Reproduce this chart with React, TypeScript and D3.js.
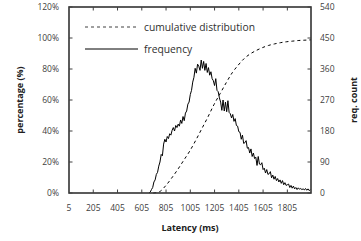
import * as d3 from 'd3';

// request counts per 10 ms bin, first bin centred at 665 ms
const freqStart = 665;
const freqStep = 10;
const frequency = [
  0, 3, 10, 16, 32, 38, 54, 60, 78, 90,
  112, 108, 142, 156, 148, 164, 158, 172, 168, 182,
  190, 180, 196, 190, 200, 194, 212, 202, 222, 210,
  232, 238, 258, 264, 286, 298, 322, 336, 362, 348,
  374, 368, 356, 386, 362, 382, 356, 376, 350, 364,
  342, 352, 332, 326, 312, 332, 298, 294, 276, 264,
  240, 270, 238, 264, 236, 268, 234, 230, 218, 228,
  208, 216, 196, 194, 178, 176, 156, 168, 144, 146,
  152, 130, 132, 116, 128, 106, 116, 100, 104, 80,
  106, 84, 82, 88, 68, 72, 58, 68, 54, 56,
  62, 44, 52, 40, 48, 36, 42, 32, 38, 28,
  36, 24, 30, 22, 24, 26, 16, 22, 14, 20,
  12, 16, 10, 15, 11, 13, 10, 12, 9, 13,
  8, 12, 7, 10,
];

// cumulative distribution (%)
const cdfLatency = [700, 750, 800, 850, 900, 950, 1000, 1050, 1100, 1150, 1200, 1250, 1300, 1350,
  1400, 1450, 1500, 1550, 1600, 1650, 1700, 1750, 1800, 1850, 1900, 1950, 2000];
const cdfPercent = [0, 0.8, 4.5, 9.5, 15, 21, 27, 34, 41.5, 49, 57, 64, 71, 77.5,
  82.5, 86.8, 89.8, 92, 93.8, 95.2, 96.2, 97, 97.6, 98, 98.4, 98.6, 98.8];

const xTicks = [5, 205, 405, 605, 805, 1005, 1205, 1405, 1605, 1805];
const pctTicks = [0, 20, 40, 60, 80, 100, 120];
const countTicks = [0, 90, 180, 270, 360, 450, 540];

const W = 361;
const H = 241;
const m = { left: 69, right: 311, top: 7, bottom: 193 };
const axisColor = '#404040';
const font = "'Open Sans', sans-serif";

export default function App() {
  const x = d3.scaleLinear().domain([5, 2000]).range([m.left, m.right]);
  const yPct = d3.scaleLinear().domain([0, 120]).range([m.bottom, m.top]);
  const yCount = d3.scaleLinear().domain([0, 540]).range([m.bottom, m.top]);

  const freqPts: [number, number][] = frequency.map((v, i) => [freqStart + i * freqStep, v]);
  const freqLine = d3.line<[number, number]>()
    .x((d) => x(d[0]))
    .y((d) => yCount(d[1]));

  const cdfPts: [number, number][] = cdfLatency.map((l, i) => [l, cdfPercent[i]]);
  const cdfLine = d3.line<[number, number]>()
    .x((d) => x(d[0]))
    .y((d) => yPct(d[1]))
    .curve(d3.curveMonotoneX);

  const tl = 3.5;

  return (
    <svg width={W} height={H} style={{ position: 'absolute', left: 0, top: 0, background: '#fff' }}>
      <path d={cdfLine(cdfPts) ?? ''} fill="none" stroke="#000" strokeWidth={1} strokeDasharray="3,3" />
      <path d={freqLine(freqPts) ?? ''} fill="none" stroke="#000" strokeWidth={1} />

      {/* frame */}
      <rect x={m.left} y={m.top} width={m.right - m.left} height={m.bottom - m.top}
        fill="none" stroke="#333" strokeWidth={1.6} />

      {/* x ticks, bottom and top, inward */}
      {xTicks.map((t) => (
        <g key={t}>
          {t !== 5 && <line x1={x(t)} x2={x(t)} y1={m.bottom} y2={m.bottom - tl} stroke={axisColor} />}
          {t !== 5 && <line x1={x(t)} x2={x(t)} y1={m.top} y2={m.top + tl} stroke={axisColor} />}
          <text x={x(t)} y={m.bottom + 18} textAnchor="middle" fontFamily={font} fontSize={8.5} fill={axisColor}>{t}</text>
        </g>
      ))}

      {/* left percentage axis */}
      {pctTicks.map((t) => (
        <g key={t}>
          <line x1={m.left} x2={m.left + tl} y1={yPct(t)} y2={yPct(t)} stroke={axisColor} />
          <text x={59} y={yPct(t)} dy="0.35em" textAnchor="end" fontFamily={font} fontSize={8.5} fill={axisColor}>{t}%</text>
        </g>
      ))}

      {/* right count axis */}
      {countTicks.map((t) => (
        <g key={t}>
          <line x1={m.right} x2={m.right - tl} y1={yCount(t)} y2={yCount(t)} stroke={axisColor} />
          <text x={320} y={yCount(t)} dy="0.35em" textAnchor="start" fontFamily={font} fontSize={8.5} fill={axisColor}>{t}</text>
        </g>
      ))}

      <text x={190} y={228} dy="0.35em" textAnchor="middle" fontFamily={font} fontSize={9} fontWeight={700} fill="#202020">Latency (ms)</text>
      <text transform={`translate(20,${(m.top + m.bottom) / 2}) rotate(-90)`} textAnchor="middle" dy="0.35em"
        fontFamily={font} fontSize={9} fontWeight={700} fill="#202020">percentage (%)</text>
      <text transform={`translate(354,${(m.top + m.bottom) / 2}) rotate(-90)`} textAnchor="middle" dy="0.35em"
        fontFamily={font} fontSize={9} fontWeight={700} fill="#202020">req. count</text>

      {/* legend */}
      <line x1={85} x2={138} y1={27} y2={27} stroke={axisColor} strokeDasharray="3,3" />
      <text x={144} y={27} dy="0.35em" fontFamily={font} fontSize={10.3} fill="#303030">cumulative distribution</text>
      <line x1={85} x2={138} y1={49} y2={49} stroke="#000" />
      <text x={144} y={49} dy="0.35em" fontFamily={font} fontSize={10.3} fill="#303030">frequency</text>
    </svg>
  );
}
